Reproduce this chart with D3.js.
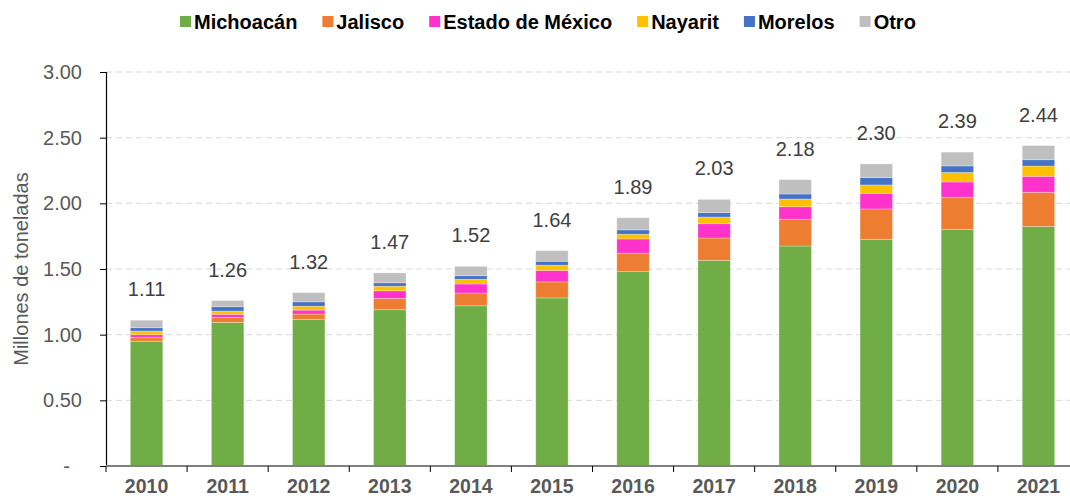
<!DOCTYPE html>
<html>
<head>
<meta charset="utf-8">
<script src="https://cdn.jsdelivr.net/npm/d3@7"></script>
<style>
  body { margin: 0; background: #fff; }
  text { font-family: "Liberation Sans", Arial, sans-serif; }
</style>
</head>
<body>
<svg id="chart" width="1070" height="496"></svg>
<script>
// data (millions of tonnes)
var years = ["2010", "2011", "2012", "2013", "2014", "2015", "2016", "2017", "2018", "2019", "2020", "2021"];
var michoacan = [0.95, 1.094, 1.117, 1.19, 1.22, 1.28, 1.48, 1.566, 1.675, 1.726, 1.80, 1.825];
var jalisco   = [0.03, 0.038, 0.04, 0.086, 0.097, 0.122, 0.14, 0.17, 0.203, 0.231, 0.246, 0.259];
var edomex    = [0.02, 0.023, 0.03, 0.058, 0.069, 0.087, 0.109, 0.109, 0.096, 0.117, 0.117, 0.122];
var nayarit   = [0.028, 0.025, 0.03, 0.035, 0.036, 0.04, 0.036, 0.051, 0.059, 0.066, 0.072, 0.078];
var morelos   = [0.025, 0.033, 0.033, 0.026, 0.027, 0.03, 0.033, 0.033, 0.038, 0.056, 0.05, 0.048];
var otro      = [0.057, 0.047, 0.07, 0.075, 0.071, 0.081, 0.092, 0.101, 0.109, 0.104, 0.105, 0.108];
var totals    = [1.11, 1.26, 1.32, 1.47, 1.52, 1.64, 1.89, 2.03, 2.18, 2.30, 2.39, 2.44];
var seriesNames = ["Michoacán", "Jalisco", "Estado de México", "Nayarit", "Morelos", "Otro"];
var colors = ["#70ad47", "#ed7d31", "#ff33cc", "#ffc000", "#4472c4", "#bfbfbf"];
var yTicks = [0, 0.5, 1, 1.5, 2, 2.5, 3];

var svg = d3.select("#chart"),
    margin = {top: 72, left: 106},
    plotRight = 1079,
    plotBottom = 466;

var rows = years.map(function (y, i) {
    return {
        year: y, total: totals[i],
        "Michoacán": michoacan[i], "Jalisco": jalisco[i], "Estado de México": edomex[i],
        "Nayarit": nayarit[i], "Morelos": morelos[i], "Otro": otro[i]
    };
});

var x = d3.scaleBand().domain(years).range([margin.left, plotRight]).paddingInner(0.6).paddingOuter(0.3);
var y = d3.scaleLinear().domain([0, 3]).range([plotBottom, margin.top]);
var color = d3.scaleOrdinal().domain(seriesNames).range(colors);

// gridlines
svg.append("g")
    .selectAll("line")
    .data(yTicks.filter(function (d) { return d > 0; }))
    .join("line")
    .attr("x1", margin.left).attr("x2", plotRight)
    .attr("y1", function (d) { return y(d); })
    .attr("y2", function (d) { return y(d); })
    .attr("stroke", "#d9d9d9")
    .attr("stroke-width", 1)
    .attr("stroke-dasharray", "6,4");

// stacked bars
var layers = d3.stack().keys(seriesNames)(rows);
svg.append("g")
    .selectAll("g")
    .data(layers)
    .join("g")
    .attr("fill", function (d) { return color(d.key); })
    .selectAll("rect")
    .data(function (d) { return d; })
    .join("rect")
    .attr("x", function (d) { return x(d.data.year); })
    .attr("width", x.bandwidth())
    .attr("y", function (d) { return y(d[1]); })
    .attr("height", function (d) { return y(d[0]) - y(d[1]); })
    .attr("stroke", "#ffffff")
    .attr("stroke-opacity", 0.35)
    .attr("stroke-width", 0.8);

// totals
svg.append("g")
    .selectAll("text")
    .data(rows)
    .join("text")
    .attr("x", function (d) { return x(d.year) + x.bandwidth() / 2; })
    .attr("y", function (d) { return y(d.total) - 24; })
    .attr("text-anchor", "middle")
    .attr("font-size", 20)
    .attr("fill", "#404040")
    .text(function (d) { return d.total.toFixed(2); });

// y axis
var yAxis = svg.append("g")
    .attr("transform", "translate(" + margin.left + ",0)")
    .call(d3.axisLeft(y).tickValues(yTicks).tickSize(6).tickPadding(18)
        .tickFormat(function (d) { return d === 0 ? "-" : d.toFixed(2); }));
yAxis.select(".domain").attr("stroke", "#000").attr("stroke-width", 1.2);
yAxis.selectAll(".tick line").attr("stroke", "#000");
yAxis.selectAll(".tick text")
    .attr("font-size", 20)
    .attr("fill", "#595959")
    .attr("dx", function (d) { return d === 0 ? -12 : 0; })
    .style("font-family", "Liberation Sans, Arial, sans-serif");

// x axis
var xAxis = svg.append("g")
    .attr("transform", "translate(0," + plotBottom + ")")
    .call(d3.axisBottom(x).tickSize(0).tickPadding(13));
xAxis.select(".domain").remove();
xAxis.append("line")
    .attr("x1", margin.left).attr("x2", plotRight)
    .attr("stroke", "#808080").attr("stroke-width", 2);
xAxis.selectAll(".tick text")
    .attr("font-size", 19.5)
    .attr("font-weight", "bold")
    .attr("fill", "#595959")
    .style("font-family", "Liberation Sans, Arial, sans-serif");
// category boundary ticks
xAxis.append("g")
    .selectAll("line")
    .data(d3.range(years.length + 1))
    .join("line")
    .attr("x1", function (i) { return margin.left + i * x.step(); })
    .attr("x2", function (i) { return margin.left + i * x.step(); })
    .attr("y1", 0).attr("y2", 6)
    .attr("stroke", "#000");

// y title
svg.append("text")
    .attr("transform", "translate(28," + ((margin.top + plotBottom) / 2) + ") rotate(-90)")
    .attr("text-anchor", "middle")
    .attr("font-size", 20)
    .attr("fill", "#595959")
    .text("Millones de toneladas");

// legend
var legend = svg.append("g").attr("transform", "translate(0,22)");
var lx = 180;
seriesNames.forEach(function (name, i) {
    var item = legend.append("g").attr("transform", "translate(" + lx + ",0)");
    item.append("rect")
        .attr("x", 0).attr("y", -6)
        .attr("width", 11).attr("height", 11)
        .attr("fill", colors[i]);
    var t = item.append("text")
        .attr("x", 14).attr("y", 7)
        .attr("font-size", 20)
        .attr("font-weight", "bold")
        .attr("fill", "#000")
        .text(name);
    lx += 14 + t.node().getComputedTextLength() + 25;
});
</script>
</body>
</html>
